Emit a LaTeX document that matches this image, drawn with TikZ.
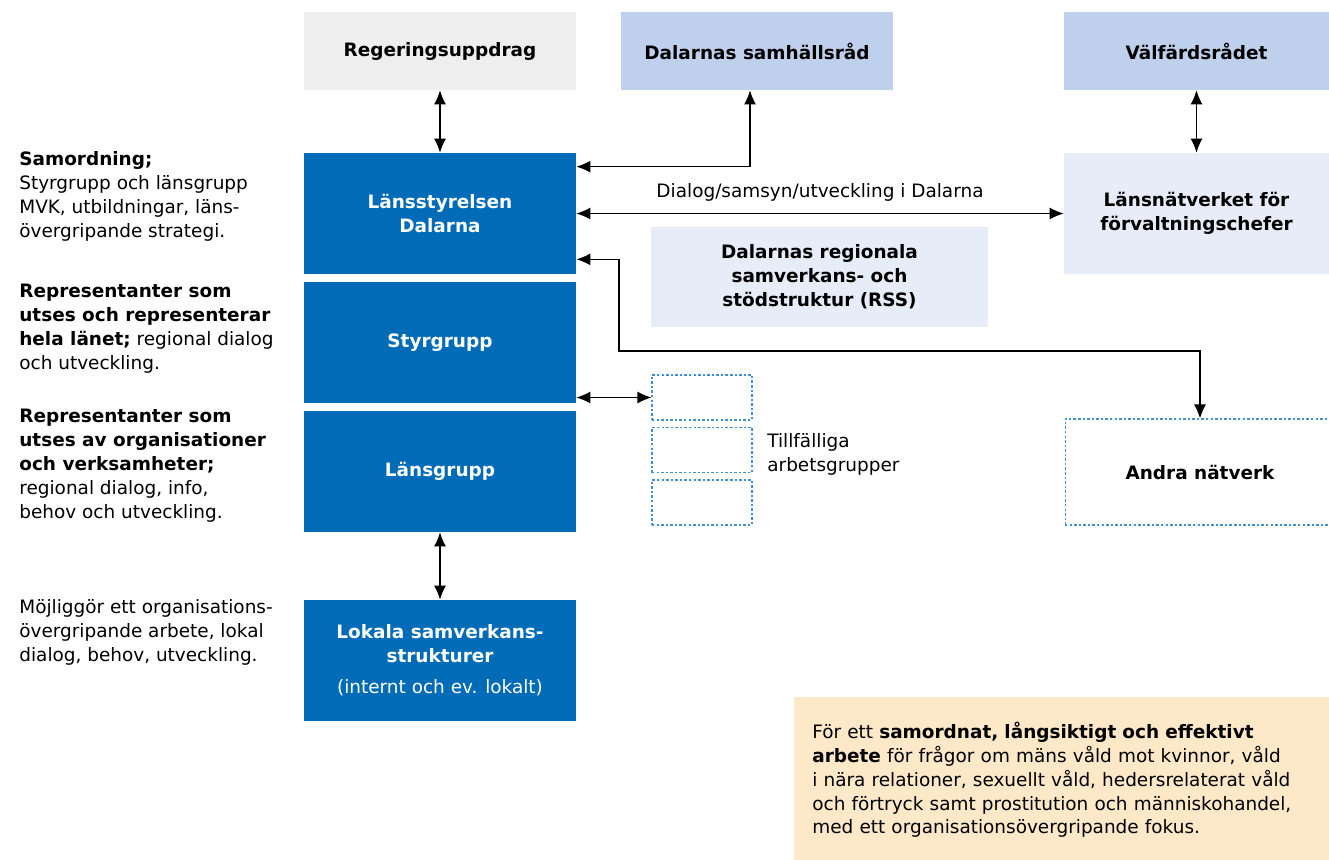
\documentclass[tikz,border=0pt]{standalone}
\usepackage{fontspec}
\setmainfont{DejaVu Sans}
\usetikzlibrary{arrows.meta}

\definecolor{lstblue}{RGB}{0,107,182}
\definecolor{midblue}{RGB}{191,208,236}
\definecolor{paleblue}{RGB}{230,237,249}
\definecolor{dashblue}{RGB}{64,145,212}
\definecolor{lightgrey}{RGB}{238,238,238}
\definecolor{notecolor}{RGB}{253,232,200}

\newcommand{\diafont}{\fontsize{10.5}{13.6}\selectfont}

\begin{document}
\begin{tikzpicture}[x=0.02cm,y=-0.02cm,
    >={Latex[length=8pt,width=6.8pt]},
    every node/.style={font=\diafont},
    blk/.style={fill=lstblue,text=white,font=\diafont\bfseries,
        align=center,minimum width=5.44cm,minimum height=2.42cm,inner sep=0pt},
    topbox/.style={font=\diafont\bfseries,align=center,
        minimum height=1.56cm,inner sep=0pt},
    tmpbox/.style={draw=dashblue,dash pattern=on 1.4pt off 1.2pt,line width=0.6pt,
        minimum width=2cm,minimum height=0.9cm,inner sep=0pt},
    side/.style={anchor=north west,align=left,inner sep=0pt},
    conn/.style={<->,line width=0.7pt}]
\useasboundingbox (0,0) rectangle (1329,859);

% Top row
\node[topbox,fill=lightgrey,minimum width=5.44cm] (reg) at (440,51) {Regeringsuppdrag};
\node[topbox,fill=midblue,minimum width=5.44cm] (samh) at (757,51) {Dalarnas samhällsråd};
\node[topbox,fill=midblue,minimum width=5.3cm] (valf) at (1196.5,51) {Välfärdsrådet};

% Main column
\node[blk] (lst) at (440,213.5) {Länsstyrelsen\\Dalarna};
\node[blk] (styr) at (440,342.5) {Styrgrupp};
\node[blk] (lans) at (440,471.5) {Länsgrupp};
\node[blk] (lokal) at (440,660.5) {Lokala samverkans-\\strukturer\\[4pt]{\mdseries (internt och ev. lokalt)}};

% Right side
\node[topbox,fill=paleblue,minimum width=5.3cm,minimum height=2.42cm] (natv) at (1196.5,213.5) {Länsnätverket för\\förvaltningschefer};
\node[topbox,fill=paleblue,minimum width=6.74cm,minimum height=2cm] (rss) at (819.5,277) {Dalarnas regionala\\samverkans- och\\stödstruktur (RSS)};
\node[tmpbox] (tmp1) at (702,397.5) {};
\node[tmpbox] (tmp2) at (702,450) {};
\node[tmpbox] (tmp3) at (702,502.5) {};
\node[side,anchor=west] (tmplbl) at (767,454) {Tillfälliga\\arbetsgrupper};
\node[tmpbox,topbox,minimum width=5.4cm,minimum height=2.12cm] (andra) at (1200,472) {Andra nätverk};

% Left descriptions
\node[side] (txt1) at (19,151) {\textbf{Samordning;}\\Styrgrupp och länsgrupp\\MVK, utbildningar, läns-\\övergripande strategi.};
\node[side] (txt2) at (19,284) {\textbf{Representanter som}\\\textbf{utses och representerar}\\\textbf{hela länet;} regional dialog\\och utveckling.};
\node[side] (txt3) at (19,409) {\textbf{Representanter som}\\\textbf{utses av organisationer}\\\textbf{och verksamheter;}\\regional dialog, info,\\behov och utveckling.};
\node[side] (txt4) at (19,599) {Möjliggör ett organisations-\\övergripande arbete, lokal\\dialog, behov, utveckling.};

% Note
\node[fill=notecolor,anchor=north west,align=left,text width=10.4cm,
    inner xsep=0.36cm,inner ysep=0pt,minimum height=3.3cm] (note) at (794,697)
    {För ett \textbf{samordnat, långsiktigt och effektivt}\\\textbf{arbete} för frågor om mäns våld mot kvinnor, våld\\i nära relationer, sexuellt våld, hedersrelaterat våld\\och förtryck samt prostitution och människohandel,\\med ett organisationsövergripande fokus.};

% Connectors
\draw[conn] (reg) -- (lst);
\draw[conn] ([xshift=-0.14cm]samh.south) |- ([yshift=-0.28cm]lst.north east);
\draw[conn] (valf) -- (natv);
\draw[conn] (lst) -- (natv) node[pos=0.5,above=3pt] (dlg) {Dialog/samsyn/utveckling i Dalarna};
\coordinate (bend) at (619,351);
\draw[conn] ([yshift=0.3cm]lst.south east) -| (bend) -| (andra.north);
\draw[conn] (styr.east |- tmp1.west) -- (tmp1.west);
\draw[conn] (lans) -- (lokal);

\end{tikzpicture}
\end{document}
